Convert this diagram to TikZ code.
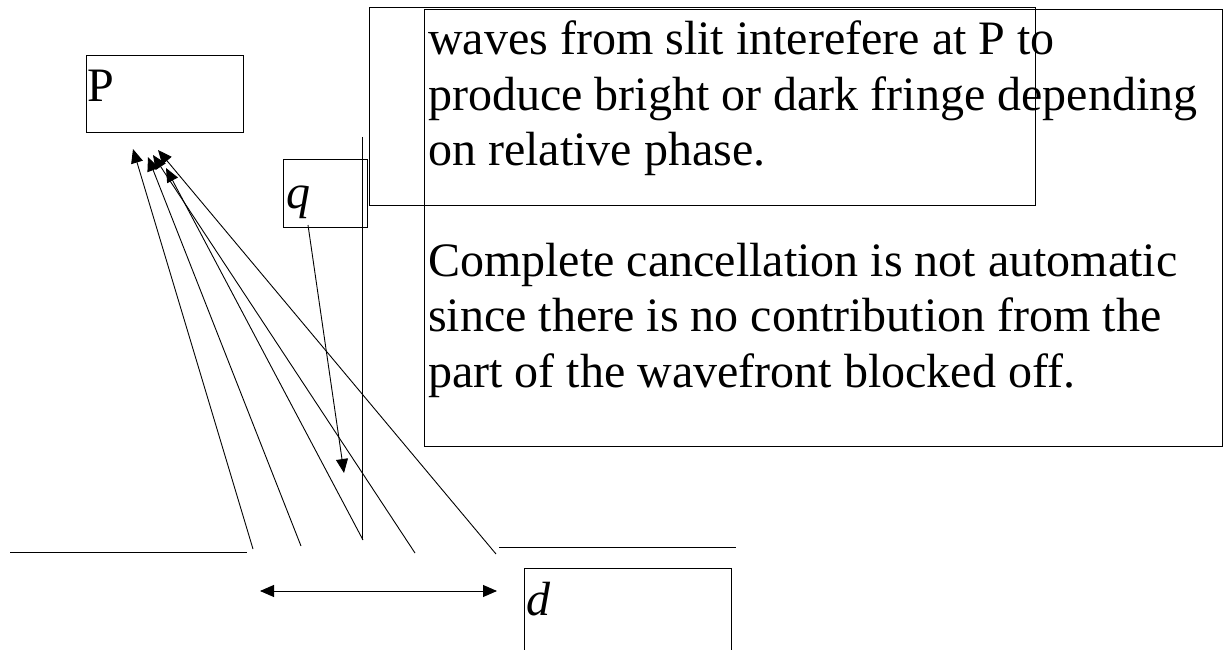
\documentclass[tikz,border=0pt]{standalone}
\usepackage{fontspec}
\setmainfont{Liberation Serif}
\usetikzlibrary{arrows.meta}
\begin{document}
\begin{tikzpicture}[x=1pt,y=-1pt,
  box/.style={draw=black, line width=0.9pt, inner sep=0pt, anchor=north west},
  ray/.style={draw=black, line width=0.9pt, -{Triangle[length=14pt,width=12pt]}},
  plain/.style={draw=black, line width=0.9pt},
  big/.style={font=\fontsize{48}{55.4}\selectfont, inner sep=0pt}]
\useasboundingbox (0,0) rectangle (1227,650);
% boxes
\node[box, minimum width=666pt, minimum height=198pt] (boxA) at (369,7) {};
\node[box, minimum width=798pt, minimum height=437pt] (boxB) at (424,9) {};
\node[big, anchor=base west] (txt) at (428,55)
  {\vtop{\hbox{waves from slit interefere at P to}
   \hbox{produce bright or dark fringe depending}
   \hbox{on relative phase.}
   \hbox{}
   \hbox{Complete cancellation is not automatic}
   \hbox{since there is no contribution from the}
   \hbox{part of the wavefront blocked off.}}};
\node[box, minimum width=157pt, minimum height=77pt] (Pbox) at (86,55) {};
\node[big, anchor=base west] (Plbl) at (87,102) {P};
\node[box, minimum width=84pt, minimum height=68pt] (qbox) at (283,159) {};
\node[big, anchor=base west] (qlbl) at (286,208) {\itshape q};
\node[box, minimum width=207pt, minimum height=100pt] (dbox) at (524,568) {};
\node[big, anchor=base west] (dlbl) at (526,615) {\itshape d};
% coordinates
\coordinate (b1) at (253,549); \coordinate (t1) at (133,149);
\coordinate (b2) at (301,546); \coordinate (t2) at (148,157);
\coordinate (b3) at (363,540); \coordinate (t3) at (166,168);
\coordinate (b4) at (415,553); \coordinate (t4) at (153,155);
\coordinate (b5) at (496,554); \coordinate (t5) at (158,150);
\coordinate (s1) at (362,137); \coordinate (s2) at (362,540);
\coordinate (l1) at (10,552);  \coordinate (l2) at (247,552);
\coordinate (r1) at (499,547); \coordinate (r2) at (736,547);
\coordinate (da) at (260,591); \coordinate (db) at (497,591);
\coordinate (qa) at (308,225); \coordinate (qb) at (344,473);
% screen and barriers
\draw[plain] (s1) -- (s2);
\draw[plain] (l1) -- (l2);
\draw[plain] (r1) -- (r2);
% rays
\draw[ray] (b1) -- (t1);
\draw[ray] (b2) -- (t2);
\draw[ray] (b3) -- (t3);
\draw[ray] (b4) -- (t4);
\draw[ray] (b5) -- (t5);
% q arrow
\draw[plain, -{Triangle[length=14pt,width=12pt]}] (qa) -- (qb);
% d double arrow
\draw[plain, {Triangle[length=14pt,width=12pt]}-{Triangle[length=14pt,width=12pt]}] (da) -- (db);
\end{tikzpicture}
\end{document}
